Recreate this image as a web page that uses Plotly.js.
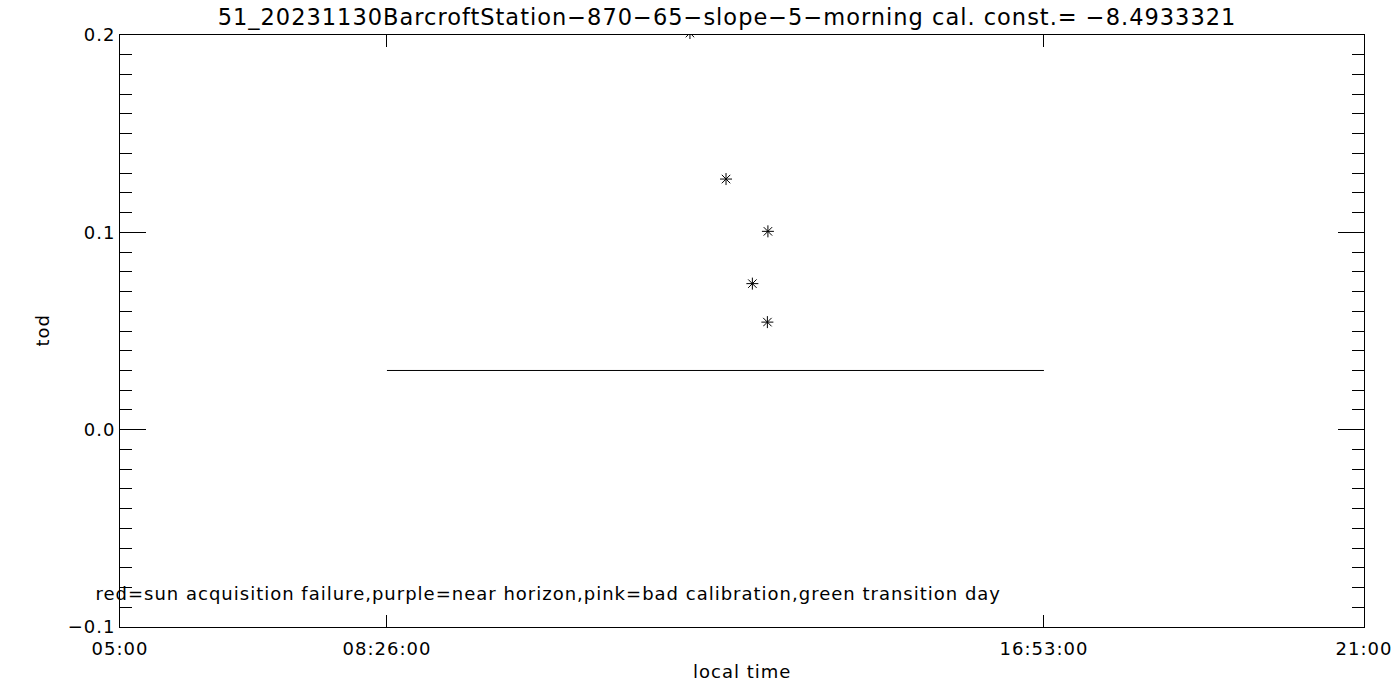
<!DOCTYPE html>
<html>
<head>
<meta charset="utf-8">
<script src="https://cdn.plot.ly/plotly-3.0.1.min.js"></script>
<style>
html,body{margin:0;padding:0;background:#fff;}
#chart{width:1400px;height:700px;}
#chart svg text{letter-spacing:1px;}
</style>
</head>
<body>
<div id="chart"></div>
<script>
// ---- data ----
const day = '2023-11-30';
const pointTimes = ['12:19:50', '12:47:40', '13:20:00', '13:08:00', '13:19:35'];
const pointTod   = [0.201, 0.127, 0.1005, 0.074, 0.0545];
const lineTimes  = ['08:26:00', '16:53:00'];
const lineTod    = [0.03, 0.03];
const xTickTimes = ['05:00:00', '08:26:00', '16:53:00', '21:00:00'];
const xTickText  = ['05:00', '08:26:00', '16:53:00', '21:00'];
const yTickVals  = [-0.1, 0.0, 0.1, 0.2];
const yTickText  = ['\u22120.1', '0.0', '0.1', '0.2'];
const titleText  = '51_20231130BarcroftStation\u2212870\u221265\u2212slope\u22125\u2212morning cal. const.= \u22128.4933321';
const noteText   = 'red=sun acquisition failure,purple=near horizon,pink=bad calibration,green transition day';

const ts = t => day + ' ' + t;
const FONT = 'DejaVu Sans';

const traces = [
  {
    x: lineTimes.map(ts), y: lineTod, type: 'scatter', mode: 'lines',
    line: {color: 'black', width: 1}, hoverinfo: 'skip', showlegend: false
  },
  {
    x: pointTimes.map(ts), y: pointTod, type: 'scatter', mode: 'markers',
    marker: {symbol: 'asterisk-open', size: 10, color: 'black', line: {color: 'black', width: 1}},
    cliponaxis: true, showlegend: false
  }
];

const layout = {
  width: 1400, height: 700,
  margin: {l: 120, r: 36, t: 35, b: 73},
  paper_bgcolor: 'white', plot_bgcolor: 'white',
  font: {family: FONT, color: 'black', size: 18},
  showlegend: false,
  title: {text: titleText, x: 727/1400, xanchor: 'center', xref: 'container',
          y: 1 - 17/700, yanchor: 'middle', yref: 'container',
          font: {family: FONT, size: 22.5, color: 'black'}},
  xaxis: {
    type: 'date',
    range: [ts('05:00:00'), ts('21:00:00')],
    tickmode: 'array', tickvals: xTickTimes.map(ts), ticktext: xTickText,
    ticks: 'inside', ticklen: 12, tickwidth: 1, tickcolor: 'black',
    showline: true, linecolor: 'black', linewidth: 1, mirror: 'ticks',
    showgrid: false, zeroline: false,
    tickfont: {family: FONT, size: 18, color: 'black'},
    ticklabelstandoff: 5
  },
  yaxis: {
    range: [-0.1, 0.2],
    tickmode: 'array', tickvals: yTickVals, ticktext: yTickText,
    ticks: 'inside', ticklen: 26, tickwidth: 1, tickcolor: 'black',
    minor: {dtick: 0.01, ticks: 'inside', ticklen: 12, tickwidth: 1, tickcolor: 'black', showgrid: false},
    showline: true, linecolor: 'black', linewidth: 1, mirror: 'ticks',
    showgrid: false, zeroline: false,
    tickfont: {family: FONT, size: 18, color: 'black'}
  },
  annotations: [
    {text: 'local time', xref: 'paper', yref: 'paper', x: 0.5, y: -(671-627)/592,
     xanchor: 'center', yanchor: 'middle', showarrow: false, font: {family: FONT, size: 18}},
    {text: 'tod', xref: 'paper', yref: 'paper', x: -(120-42)/1244, y: (627-330)/592,
     xanchor: 'center', yanchor: 'middle', textangle: -90, showarrow: false, font: {family: FONT, size: 18}},
    {text: noteText, xref: 'paper', yref: 'paper', x: (548.5-120)/1244, y: (627-593)/592,
     xanchor: 'center', yanchor: 'middle', showarrow: false, font: {family: FONT, size: 18}}
  ]
};

Plotly.newPlot('chart', traces, layout, {displayModeBar: false, staticPlot: true});
</script>
</body>
</html>
